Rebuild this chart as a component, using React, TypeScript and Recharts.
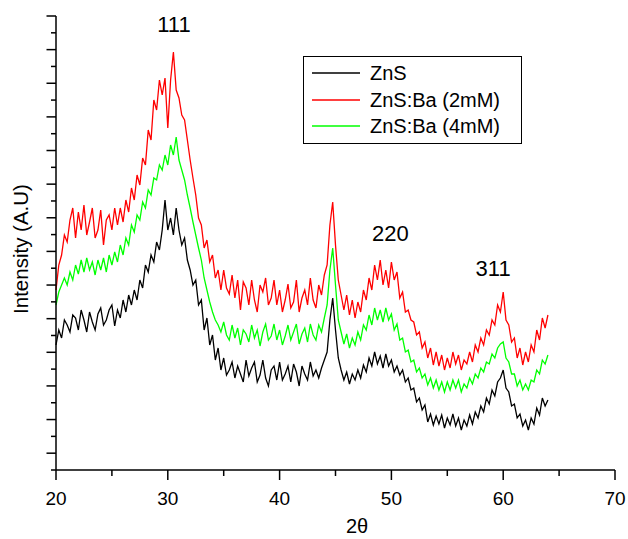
import { LineChart, Line, XAxis, YAxis, Legend, ReferenceDot } from 'recharts'

const FONT = '"Liberation Sans", Arial, Helvetica, sans-serif'

// scan grid: 2θ from 20° to 64° in 0.25° steps
const THETA_START = 20
const THETA_STEP = 0.25

// intensities (arbitrary units, 27 minor divisions on the axis)
const zns = [
  125, 140, 132, 150, 145, 138, 155, 152, 140, 160, 150, 138, 158, 148, 140, 156, 162, 145, 150, 160,
  165, 144, 160, 152, 170, 158, 175, 165, 180, 170, 190, 182, 205, 198, 215, 208, 228, 220, 240, 270,
  240, 252, 235, 262, 240, 225, 232, 210, 200, 185, 190, 165, 170, 140, 152, 125, 135, 110, 122, 100,
  112, 95, 100, 108, 92, 104, 96, 88, 110, 94, 102, 108, 88, 95, 110, 92, 84, 100, 104, 90,
  108, 90, 96, 104, 88, 106, 98, 84, 104, 96, 90, 108, 94, 100, 92, 102, 110, 118, 150, 172,
  140, 112, 100, 90, 98, 86, 96, 90, 100, 92, 105, 98, 112, 104, 118, 106, 114, 102, 116, 104,
  110, 98, 104, 95, 100, 88, 92, 80, 82, 68, 72, 60, 65, 48, 56, 45, 54, 46, 55, 42,
  52, 45, 56, 44, 52, 40, 50, 44, 55, 46, 58, 52, 64, 58, 72, 66, 80, 74, 88, 92,
  100, 82, 78, 64, 66, 52, 56, 44, 50, 40, 52, 46, 62, 55, 72, 64, 70,
]

const znsBa2 = [
  180, 205, 215, 235, 228, 250, 262, 232, 258, 240, 265, 235, 248, 262, 232, 240, 260, 225, 250, 255,
  240, 262, 245, 262, 248, 270, 258, 282, 270, 295, 285, 312, 305, 340, 330, 370, 360, 390, 375, 392,
  342, 390, 418, 380, 372, 355, 350, 330, 310, 292, 275, 252, 245, 222, 230, 208, 215, 192, 200, 180,
  200, 182, 176, 195, 172, 190, 160, 188, 182, 165, 190, 170, 158, 185, 178, 192, 165, 172, 190, 165,
  180, 158, 170, 186, 162, 168, 190, 158, 172, 180, 165, 192, 170, 162, 185, 175, 195, 205, 245, 268,
  225, 190, 175, 160, 175, 155, 170, 152, 168, 158, 180, 170, 192, 180, 205, 190, 210, 185, 200, 182,
  208, 190, 198, 172, 178, 158, 160, 150, 148, 135, 138, 122, 128, 112, 122, 105, 118, 104, 115, 100,
  112, 102, 118, 106, 115, 100, 110, 106, 118, 108, 125, 118, 132, 125, 140, 135, 150, 145, 165, 158,
  178, 150, 145, 128, 132, 112, 122, 105, 118, 108, 125, 118, 140, 130, 152, 142, 155,
]

const znsBa4 = [
  165, 178, 185, 192, 185, 198, 190, 205, 196, 210, 198, 212, 200, 208, 195, 210, 200, 212, 198, 215,
  205, 218, 208, 225, 215, 232, 225, 245, 238, 255, 250, 268, 262, 280, 275, 292, 290, 305, 300, 315,
  305, 325, 315, 333, 310, 300, 290, 275, 262, 248, 235, 222, 210, 192, 180, 168, 158, 150, 145, 138,
  148, 135, 130, 145, 132, 142, 125, 140, 136, 128, 145, 132, 140, 124, 138, 146, 130, 134, 146, 130,
  140, 125, 134, 145, 130, 138, 146, 126, 136, 142, 128, 146, 135, 130, 145, 138, 152, 165, 200, 222,
  185, 150, 138, 126, 136, 122, 132, 125, 138, 130, 145, 140, 155, 145, 162, 150, 160, 148, 162, 150,
  156, 140, 146, 130, 132, 118, 120, 108, 110, 98, 102, 92, 96, 85, 92, 82, 90, 80, 88, 78,
  88, 80, 90, 82, 90, 78, 86, 82, 92, 86, 96, 92, 102, 98, 108, 106, 116, 112, 122, 126,
  128, 112, 108, 96, 96, 84, 90, 80, 86, 80, 90, 88, 100, 96, 110, 106, 115,
]

const peakLabels = [
  { hkl: '111', x: 30.55, y: 446 },
  { hkl: '220', x: 49.9, y: 237 },
  { hkl: '311', x: 59.1, y: 202 },
]

const xTicks = [20, 25, 30, 35, 40, 45, 50, 55, 60, 65, 70]
const Y_MAX = 454
const Y_DIVS = 27
const yTicks = Array.from({ length: Y_DIVS + 1 }, (_, i) => (i * Y_MAX) / Y_DIVS)

const data = zns.map((v, i) => ({
  x: THETA_START + i * THETA_STEP,
  zns: v,
  ba2: znsBa2[i],
  ba4: znsBa4[i],
}))

// x ticks: long + number every 10°, short at the 5s
const XTick = (props: any) => {
  const { x, y, payload } = props
  const major = payload.value % 10 === 0
  return (
    <g>
      <line x1={x} y1={y} x2={x} y2={y + (major ? 10 : 6)} stroke="#000" strokeWidth={1.5} />
      {major && (
        <text x={x} y={y + 35} textAnchor="middle" fontSize={19} fill="#000" fontFamily={FONT}>
          {payload.value}
        </text>
      )}
    </g>
  )
}

// y ticks have no numbers, just alternating long/short marks
const YTick = (props: any) => {
  const { x, y, payload } = props
  const idx = Math.round((payload.value * Y_DIVS) / Y_MAX)
  const len = idx % 2 === 1 ? 9.5 : 5
  return <line x1={x - len} y1={y} x2={x} y2={y} stroke="#000" strokeWidth={1.5} />
}

const LegendBox = ({ payload }: any) => (
  <div
    style={{
      width: 219,
      height: 88,
      boxSizing: 'border-box',
      border: '1px solid #000',
      background: '#fff',
      paddingTop: 3,
      fontFamily: FONT,
      fontSize: 20,
      color: '#000',
    }}
  >
    {(payload || []).map((entry: any) => (
      <div key={entry.value} style={{ display: 'flex', alignItems: 'center', height: 26.5 }}>
        <svg width={48} height={4} style={{ marginLeft: 8, display: 'block' }}>
          <line x1={0} y1={2} x2={48} y2={2} stroke={entry.color} strokeWidth={1.3} />
        </svg>
        <span style={{ marginLeft: 10, lineHeight: '26.5px', whiteSpace: 'nowrap' }}>{entry.value}</span>
      </div>
    ))}
  </div>
)

export default function App() {
  return (
    <div style={{ position: 'absolute', left: 0, top: 0, background: '#fff', fontFamily: FONT }}>
      <LineChart width={628} height={539} data={data} margin={{ top: 16, right: 13, bottom: 29, left: 16 }}>
        <XAxis
          dataKey="x"
          type="number"
          domain={[20, 70]}
          ticks={xTicks}
          interval={0}
          height={40}
          tickSize={0}
          tickMargin={0}
          tickLine={false}
          tick={<XTick />}
          axisLine={{ stroke: '#000', strokeWidth: 1.5 }}
          label={{
            content: () => (
              <text x={357} y={533} textAnchor="middle" fontSize={20} fill="#000" fontFamily={FONT}>
                2θ
              </text>
            ),
          }}
        />
        <YAxis
          type="number"
          domain={[0, Y_MAX]}
          ticks={yTicks}
          interval={0}
          width={40}
          tickSize={0}
          tickMargin={0}
          tickLine={false}
          tick={<YTick />}
          axisLine={{ stroke: '#000', strokeWidth: 1.5 }}
          label={{
            content: () => (
              <text
                x={27.5}
                y={249}
                transform="rotate(-90, 27.5, 249)"
                textAnchor="middle"
                fontSize={20.5}
                fill="#000"
                fontFamily={FONT}
              >
                Intensity (A.U)
              </text>
            ),
          }}
        />
        <Legend
          layout="horizontal"
          verticalAlign="middle"
          align="center"
          content={<LegendBox />}
          wrapperStyle={{ left: 303, top: 56, width: 219, height: 88 }}
        />
        <Line name="ZnS" dataKey="zns" stroke="#000000" strokeWidth={1.3} dot={false} type="linear" isAnimationActive={false} />
        <Line name="ZnS:Ba (2mM)" dataKey="ba2" stroke="#ff0000" strokeWidth={1.3} dot={false} type="linear" isAnimationActive={false} />
        <Line name="ZnS:Ba (4mM)" dataKey="ba4" stroke="#00ff00" strokeWidth={1.3} dot={false} type="linear" isAnimationActive={false} />
        {peakLabels.map((p) => (
          <ReferenceDot
            key={p.hkl}
            x={p.x}
            y={p.y}
            r={0}
            fill="none"
            stroke="none"
            label={{ value: p.hkl, position: 'center', fontSize: 22, fill: '#000', fontFamily: FONT }}
          />
        ))}
      </LineChart>
    </div>
  )
}
